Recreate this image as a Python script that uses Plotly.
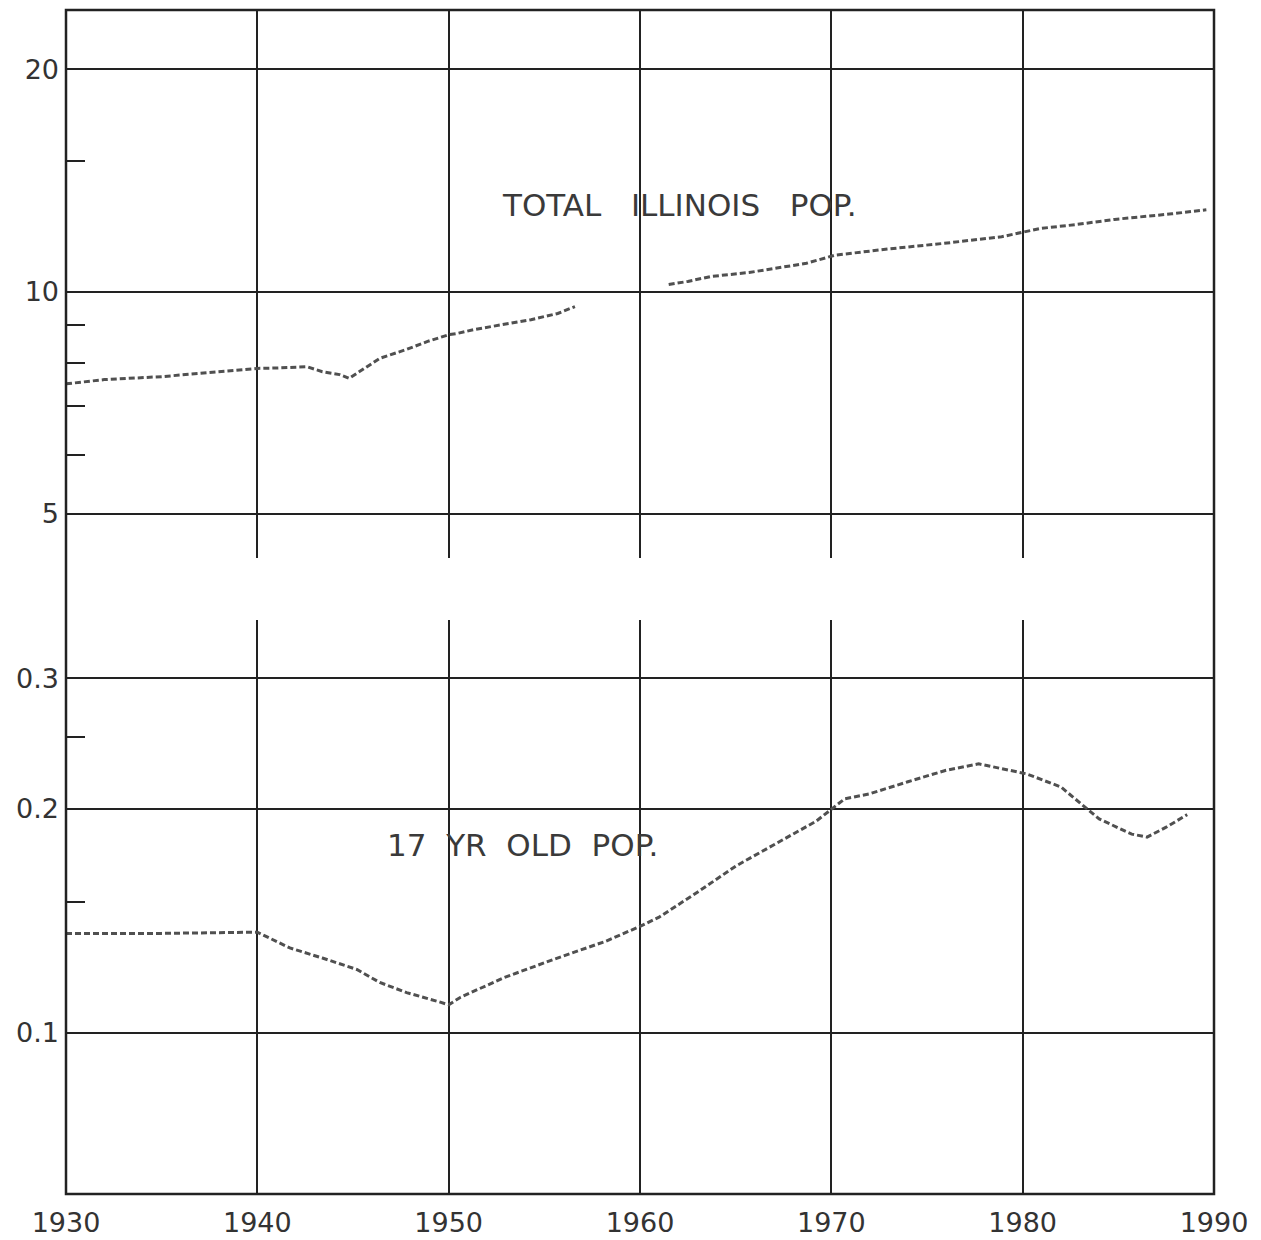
import plotly.graph_objects as go
import math

# ---- data (millions) ----
total_years_a = [1930, 1932, 1935, 1938, 1940, 1941, 1942.6, 1943.4, 1944.3, 1944.8,
                 1945.5, 1946.4, 1947.8, 1948.9, 1950.0, 1950.4, 1951.3, 1952.3,
                 1953.1, 1954.3, 1955.7, 1956.6]
total_pop_a = [7.50, 7.60, 7.67, 7.78, 7.87, 7.88, 7.91, 7.79, 7.72, 7.63,
               7.84, 8.12, 8.35, 8.56, 8.74, 8.77, 8.88, 8.97,
               9.03, 9.16, 9.34, 9.54]
total_years_b = [1961.5, 1962.5, 1963.7, 1965.7, 1968.7, 1970.2, 1973.0, 1975.9,
                 1978.9, 1980.9, 1982.8, 1984.8, 1987.8, 1989.6]
total_pop_b = [10.22, 10.32, 10.48, 10.61, 10.92, 11.20, 11.42, 11.62,
               11.86, 12.17, 12.32, 12.52, 12.74, 12.90]

teen_years = [1930, 1935, 1940, 1941.7, 1943.4, 1945.2, 1946.4, 1947.8, 1949.5, 1950.0,
              1950.6, 1952.9, 1955.5, 1958.2, 1960, 1961, 1963, 1965, 1967, 1969.2,
              1970.7, 1972, 1974, 1976, 1977.7, 1980.2, 1982, 1983.2, 1984, 1985.7,
              1986.5, 1987.5, 1988.6]
teen_pop = [0.136, 0.136, 0.1365, 0.130, 0.126, 0.1216, 0.1168, 0.1132, 0.110, 0.109,
            0.1115, 0.1186, 0.1255, 0.1327, 0.139, 0.143, 0.1545, 0.1675, 0.179, 0.1925,
            0.2064, 0.2096, 0.2176, 0.2255, 0.230, 0.2230, 0.2141, 0.2019, 0.1939, 0.185,
            0.1833, 0.189, 0.1965]

x_ticks = [1930, 1940, 1950, 1960, 1970, 1980, 1990]
x_labels = ["1930", "1940", "1950", "1960", "1970", "1980", "1990"]
top_ticks = [5, 10, 20]
top_labels = ["5", "10", "20"]
top_minor = [6, 7, 8, 9, 15]
bot_ticks = [0.1, 0.2, 0.3]
bot_labels = ["0.1", "0.2", "0.3"]
bot_minor = [0.15, 0.25]

INK = "#222222"
LINE = "#505050"
FONT = dict(family="DejaVu Sans", size=27, color="#333333")
LABEL_FONT = dict(family="DejaVu Sans", size=31, color="#3a3a3a")

fig = go.Figure()
line_style = dict(color=LINE, width=3, dash="6px,3px")
fig.add_trace(go.Scatter(x=total_years_a, y=total_pop_a, mode="lines", line=line_style,
                         xaxis="x", yaxis="y", showlegend=False))
fig.add_trace(go.Scatter(x=total_years_b, y=total_pop_b, mode="lines", line=line_style,
                         xaxis="x", yaxis="y", showlegend=False))
fig.add_trace(go.Scatter(x=teen_years, y=teen_pop, mode="lines", line=line_style,
                         xaxis="x2", yaxis="y2", showlegend=False))

xcommon = dict(range=[1930, 1990], tickmode="array", tickvals=x_ticks, ticktext=x_labels,
               showgrid=True, gridcolor=INK, gridwidth=2, zeroline=False, showline=False,
               ticks="", tickfont=FONT)
ycommon = dict(type="log", tickmode="array", showgrid=True, gridcolor=INK, gridwidth=2,
               zeroline=False, showline=False, ticks="", tickfont=FONT, ticklabelstandoff=6)

# page body has an 8px default margin, so the figure is shrunk by 8px and margins offset
fig.update_layout(
    width=1253, height=1232,
    margin=dict(l=58, r=47, t=2, b=46),
    paper_bgcolor="white", plot_bgcolor="white",
    xaxis=dict(xcommon, anchor="y", showticklabels=False),
    yaxis=dict(ycommon, domain=[0.5372, 1.0], anchor="x",
               range=[math.log10(4.36), math.log10(24.04)],
               tickvals=top_ticks, ticktext=top_labels,
               minor=dict(tickmode="array", tickvals=top_minor, ticks="inside",
                          ticklen=19, tickwidth=2, tickcolor=INK, showgrid=False)),
    xaxis2=dict(xcommon, anchor="y2", ticklabelstandoff=10),
    yaxis2=dict(ycommon, domain=[0.0, 0.4848], anchor="x2",
                range=[-1.2173, -0.4446],
                tickvals=bot_ticks, ticktext=bot_labels,
                minor=dict(tickmode="array", tickvals=bot_minor, ticks="inside",
                           ticklen=19, tickwidth=2, tickcolor=INK, showgrid=False)),
    shapes=[dict(type="rect", xref="paper", yref="paper", x0=0, x1=1, y0=0, y1=1,
                 line=dict(color=INK, width=2.5), fillcolor="rgba(0,0,0,0)", layer="above")],
    annotations=[
        dict(text="TOTAL   ILLINOIS   POP.", xref="paper", yref="paper", x=0.378, y=0.835,
             xanchor="left", yanchor="middle", showarrow=False,
             font=LABEL_FONT),
        dict(text="17  YR  OLD  POP.", xref="paper", yref="paper", x=0.278, y=0.295,
             xanchor="left", yanchor="middle", showarrow=False,
             font=LABEL_FONT),
    ],
)

fig.write_html("out.html")
